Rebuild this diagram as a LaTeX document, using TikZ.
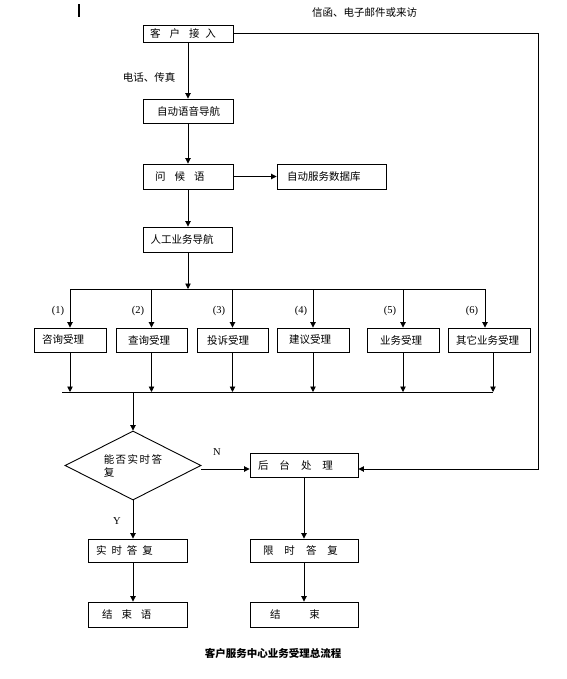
\documentclass[tikz,border=0pt]{standalone}
\usepackage{fontspec}
\setmainfont{Liberation Serif}
\newfontfamily\cjk{Noto Sans CJK SC}
\usetikzlibrary{arrows.meta,shapes.geometric}
\newcommand\gp[1]{\kern#1pt\relax}
\begin{document}
\begin{tikzpicture}[x=1pt,y=-1pt,
  bx/.style={draw, line width=0.9pt, align=left, inner ysep=0pt, font=\cjk\fontsize{10.5}{12}\selectfont},
  arr/.style={line width=0.9pt, -{Triangle[width=5.5pt,length=5.5pt]}},
  ln/.style={line width=0.9pt},
  lbl/.style={font=\cjk\fontsize{10.5}{12}\selectfont, inner sep=0pt},
  num/.style={font=\fontsize{10.5}{12}\selectfont, inner sep=0pt}]
\path[use as bounding box] (0,0) rectangle (566,679);
\fill (78,4) rectangle (80,17);
% boxes
\node[bx, text width=76pt, inner xsep=7pt, minimum height=17pt] (b1) at (188,33.5) {客\gp{9}户\gp{9}接\gp{6}入};
\node[bx, text width=62pt, inner xsep=14pt, minimum height=24pt] (b2) at (188,111) {自动语音导航};
\node[bx, text width=66pt, inner xsep=12pt, minimum height=25pt] (b3) at (188,176.5) {问\gp{9}候\gp{9}语};
\node[bx, text width=89pt, inner xsep=10pt, minimum height=25pt] (db) at (331.5,176.5) {自动服务数据库};
\node[bx, text width=75pt, inner xsep=7pt, minimum height=25pt] (b4) at (188,239.5) {人工业务导航};
\node[bx, text width=56pt, inner xsep=8pt, minimum height=24pt] (s1) at (70,340) {咨询受理};
\node[bx, text width=47pt, inner xsep=12pt, minimum height=24pt] (s2) at (151.5,340) {查询受理};
\node[bx, text width=51pt, inner xsep=10pt, minimum height=24pt] (s3) at (232.5,340) {投诉受理};
\node[bx, text width=48pt, inner xsep=12pt, minimum height=24pt] (s4) at (313,340) {建议受理};
\node[bx, text width=46pt, inner xsep=13pt, minimum height=24pt] (s5) at (403,340) {业务受理};
\node[bx, text width=66pt, inner xsep=8pt, minimum height=24pt] (s6) at (489,340) {其它业务受理};
\node[draw, diamond, aspect=2, line width=0.9pt, minimum width=136pt, minimum height=69pt, inner sep=0pt, align=left, font=\cjk\fontsize{10.5}{13}\selectfont] (dm) at (133,465.5) {能\gp{1.5}否\gp{1.5}实\gp{1.5}时\gp{1.5}答\\复};
\node[bx, text width=92pt, inner xsep=8pt, minimum height=24pt] (bk) at (304,465) {后\gp{11}台\gp{11}处\gp{11}理};
\node[bx, text width=83pt, inner xsep=8pt, minimum height=23pt] (rt) at (137.5,550.5) {实\gp{5}时\gp{5}答\gp{5}复};
\node[bx, text width=82pt, inner xsep=13pt, minimum height=23pt] (lt) at (304,550.5) {限\gp{11}时\gp{11}答\gp{11}复};
\node[bx, text width=71pt, inner xsep=14pt, minimum height=25pt] (e1) at (137.5,614.5) {结\gp{9}束\gp{9}语};
\node[bx, text width=68pt, inner xsep=20pt, minimum height=25pt] (e2) at (304,614.5) {结\gp{29}束};
% labels
\node[lbl] (ltel) at (149,78) {电话、传真};
\node[lbl] (lmail) at (364.5,13) {信函、电子邮件或来访};
\node[num] (n1) at (58,311) {(1)};
\node[num] (n2) at (138,311) {(2)};
\node[num] (n3) at (219,311) {(3)};
\node[num] (n4) at (301,311) {(4)};
\node[num] (n5) at (390,311) {(5)};
\node[num] (n6) at (472,311) {(6)};
\node[num] (lN) at (217,452) {N};
\node[num] (lY) at (117,521) {Y};
\node[inner sep=0pt, font=\cjk\bfseries\fontsize{10.5}{12}\selectfont] (cap) at (273,653) {客户服务中心业务受理总流程};
% connectors
\draw[arr] (b1.south) -- (b2.north);
\draw[arr] (b2.south) -- (b3.north);
\draw[arr] (b3.east) -- (db.west);
\draw[arr] (b3.south) -- (b4.north);
\coordinate (rc) at (538,33.5);
\coordinate (bkr) at ([yshift=-4pt]bk.east);
\draw[arr] (b1.east) -- (rc) |- (bkr);
\coordinate (j1) at (188,289);
\coordinate (hl) at (70,289);
\coordinate (hr) at (485,289);
\draw[arr] (b4.south) -- (j1);
\draw[ln] (hl) -- (hr);
\foreach \s in {s1,s2,s3,s4,s5} \draw[arr] (\s.north |- hl) -- (\s.north);
\draw[arr] ([xshift=-4pt]s6.north |- hl) -- ([xshift=-4pt]s6.north);
\coordinate (bl) at (62,392);
\coordinate (br) at (493,392);
\draw[ln] (bl) -- (br);
\foreach \s in {s1,s2,s3,s4,s5} \draw[arr] (\s.south) -- (\s.south |- bl);
\draw[arr] ([xshift=4pt]s6.south) -- ([xshift=4pt]s6.south |- bl);
\coordinate (bj) at (133,392);
\draw[arr] (bj) -- (dm.north);
\coordinate (bkin) at ([yshift=-4pt]bk.west);
\draw[arr] (dm.east |- bkin) -- (bkin);
\draw[arr] (dm.south) -- (dm.south |- rt.north);
\draw[arr] (dm.south |- rt.south) -- (dm.south |- e1.north);
\draw[arr] (bk.south) -- (lt.north);
\draw[arr] (lt.south) -- (e2.north);
\end{tikzpicture}
\end{document}
